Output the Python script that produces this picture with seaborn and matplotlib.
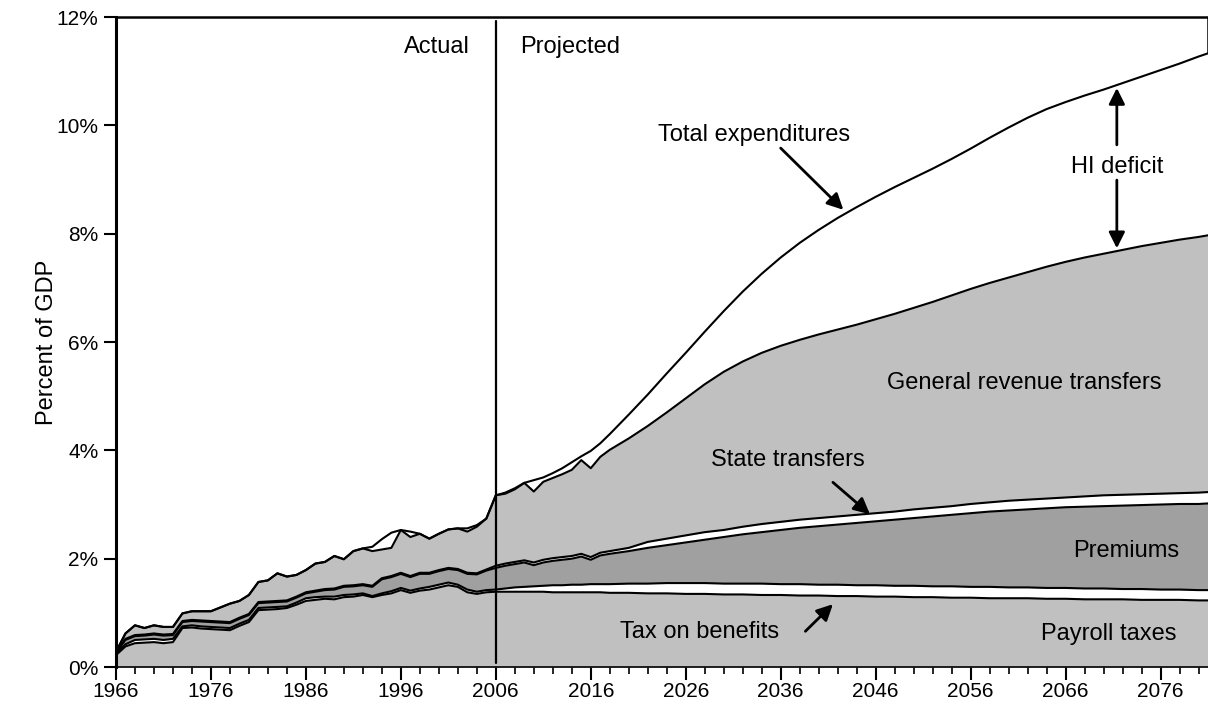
import numpy as np
import pandas as pd
import matplotlib
matplotlib.use("Agg")
import matplotlib.pyplot as plt
import seaborn as sns

# %% data: HI income layers (cumulative tops) and expenditures, percent of GDP

years = list(range(1966, 2019)) + list(range(2020, 2081, 2)) + [2081]

payroll_top = [0.22, 0.38, 0.44, 0.45, 0.46, 0.44, 0.46, 0.72, 0.73, 0.71,
               0.70, 0.69, 0.68, 0.76, 0.83, 1.05, 1.06, 1.07, 1.09, 1.15,
               1.22, 1.24, 1.26, 1.25, 1.29, 1.30, 1.33, 1.29, 1.33, 1.36,
               1.42, 1.37, 1.41, 1.43, 1.47, 1.51, 1.48, 1.38, 1.35, 1.38,
               1.39,
               1.39, 1.39, 1.39, 1.39, 1.39, 1.38, 1.38, 1.38, 1.38, 1.38,
               1.38, 1.37,
               1.37, 1.36, 1.36, 1.35, 1.35, 1.34, 1.34, 1.33, 1.33, 1.32,
               1.32, 1.31, 1.31, 1.30, 1.30, 1.29, 1.29, 1.28, 1.28, 1.27,
               1.27, 1.27, 1.26, 1.26, 1.25, 1.25, 1.25, 1.24, 1.24, 1.24,
               1.23, 1.23]

benefit_tax_top = [0.24, 0.42, 0.50, 0.51, 0.52, 0.50, 0.52, 0.75, 0.77, 0.75,
                   0.74, 0.73, 0.72, 0.80, 0.87, 1.09, 1.10, 1.11, 1.12, 1.19,
                   1.27, 1.29, 1.30, 1.30, 1.33, 1.34, 1.36, 1.31, 1.36, 1.40,
                   1.46, 1.41, 1.45, 1.48, 1.52, 1.56, 1.52, 1.43, 1.39, 1.42,
                   1.43,
                   1.45, 1.47, 1.48, 1.49, 1.50, 1.51, 1.51, 1.52, 1.52, 1.53,
                   1.53, 1.53,
                   1.54, 1.54, 1.55, 1.55, 1.55, 1.54, 1.54, 1.54, 1.53, 1.53,
                   1.52, 1.52, 1.51, 1.51, 1.50, 1.50, 1.49, 1.49, 1.48, 1.48,
                   1.47, 1.47, 1.46, 1.46, 1.45, 1.45, 1.44, 1.44, 1.43, 1.43,
                   1.42, 1.42]

premium_top = [0.26, 0.50, 0.57, 0.58, 0.60, 0.58, 0.59, 0.83, 0.85, 0.84,
               0.83, 0.82, 0.81, 0.89, 0.96, 1.18, 1.19, 1.20, 1.21, 1.28,
               1.36, 1.39, 1.42, 1.43, 1.48, 1.49, 1.51, 1.48, 1.62, 1.66,
               1.72, 1.66, 1.72, 1.72, 1.77, 1.81, 1.79, 1.72, 1.71, 1.78,
               1.83,
               1.87, 1.90, 1.93, 1.88, 1.93, 1.96, 1.98, 2.00, 2.04, 1.98,
               2.06, 2.09,
               2.14, 2.20, 2.25, 2.30, 2.35, 2.40, 2.45, 2.49, 2.53, 2.57,
               2.60, 2.63, 2.66, 2.69, 2.72, 2.75, 2.78, 2.81, 2.84, 2.87,
               2.89, 2.91, 2.93, 2.95, 2.96, 2.97, 2.98, 2.99, 3.00, 3.01,
               3.01, 3.02]

state_top = [0.27, 0.52, 0.59, 0.60, 0.62, 0.60, 0.61, 0.85, 0.87, 0.86,
             0.85, 0.84, 0.83, 0.91, 0.98, 1.20, 1.21, 1.22, 1.23, 1.30,
             1.38, 1.41, 1.44, 1.45, 1.50, 1.51, 1.53, 1.50, 1.64, 1.68,
             1.74, 1.68, 1.74, 1.74, 1.79, 1.83, 1.81, 1.74, 1.73, 1.80,
             1.87,
             1.91, 1.94, 1.97, 1.93, 1.98, 2.01, 2.03, 2.05, 2.09, 2.03,
             2.11, 2.14,
             2.20, 2.31, 2.37, 2.43, 2.49, 2.53, 2.59, 2.64, 2.68, 2.72,
             2.75, 2.78, 2.81, 2.84, 2.87, 2.91, 2.94, 2.97, 3.01, 3.04,
             3.07, 3.09, 3.11, 3.13, 3.15, 3.17, 3.18, 3.19, 3.20, 3.21,
             3.22, 3.23]

total_income = [0.28, 0.62, 0.77, 0.72, 0.77, 0.74, 0.74, 0.99, 1.03, 1.03,
                1.03, 1.10, 1.17, 1.22, 1.33, 1.57, 1.60, 1.73, 1.67, 1.70,
                1.79, 1.91, 1.94, 2.05, 1.99, 2.14, 2.19, 2.14, 2.17, 2.20,
                2.53, 2.40, 2.46, 2.37, 2.46, 2.54, 2.56, 2.50, 2.59, 2.74,
                3.17,
                3.20, 3.28, 3.40, 3.24, 3.42, 3.49, 3.56, 3.64, 3.82, 3.67,
                3.88, 4.01,
                4.22, 4.45, 4.70, 4.96, 5.22, 5.45, 5.64, 5.80, 5.93, 6.04,
                6.14, 6.23, 6.32, 6.42, 6.52, 6.63, 6.74, 6.86, 6.98, 7.09,
                7.19, 7.29, 7.39, 7.48, 7.56, 7.63, 7.70, 7.77, 7.83, 7.89,
                7.94, 7.97]

expenditures = [0.28, 0.62, 0.77, 0.72, 0.77, 0.74, 0.74, 0.99, 1.03, 1.03,
                1.03, 1.10, 1.17, 1.22, 1.33, 1.57, 1.60, 1.73, 1.67, 1.70,
                1.79, 1.91, 1.94, 2.05, 1.99, 2.14, 2.19, 2.22, 2.36, 2.48,
                2.53, 2.50, 2.46, 2.37, 2.46, 2.54, 2.56, 2.56, 2.62, 2.74,
                3.17,
                3.22, 3.30, 3.40, 3.45, 3.50, 3.58, 3.67, 3.78, 3.89, 3.99,
                4.13, 4.30,
                4.66, 5.03, 5.42, 5.80, 6.19, 6.57, 6.93, 7.26, 7.56, 7.83,
                8.07, 8.29, 8.49, 8.68, 8.86, 9.03, 9.20, 9.38, 9.57, 9.77,
                9.96, 10.14, 10.30, 10.43, 10.55, 10.66, 10.78, 10.90, 11.02,
                11.14, 11.27, 11.33]

df = pd.DataFrame({"year": years, "payroll": payroll_top,
                   "benefit_tax": benefit_tax_top, "premiums": premium_top,
                   "state": state_top, "income": total_income,
                   "expenditures": expenditures})

# %% figure

sns.set_theme(style="ticks")
plt.rcParams["font.family"] = ["Liberation Sans", "DejaVu Sans"]
plt.rcParams["text.color"] = "black"
plt.rcParams["axes.labelcolor"] = "black"

light = "#c0c0c0"
dark = "#a0a0a0"
fs = 17

fig = plt.figure(figsize=(12.08, 7.06), dpi=100)
ax = fig.add_axes([0.096, 0.0552, 0.904, 0.9207])

ax.fill_between(df.year, 0, df.payroll, color=light, lw=0)
ax.fill_between(df.year, df.benefit_tax, df.premiums, color=dark, lw=0)
ax.fill_between(df.year, df.state, df.income, color=light, lw=0)

for col in ["payroll", "benefit_tax", "premiums", "state", "income",
            "expenditures"]:
    sns.lineplot(data=df, x="year", y=col, ax=ax, color="black", lw=1.5,
                 estimator=None)

ax.set_xlim(1966, 2081)
ax.set_ylim(0, 12)
ax.set_xticks(range(1966, 2077, 10))
ax.set_xticks(range(1966, 2082, 2), minor=True)
ax.set_yticks(range(0, 13, 2))
ax.set_yticklabels([f"{v}%" for v in range(0, 13, 2)])
ax.set_xlabel("")
ax.set_ylabel("Percent of GDP", fontsize=fs)
ax.yaxis.set_label_coords(-0.053, 0.5)
ax.tick_params(axis="both", which="major", labelsize=15, color="black",
               labelcolor="black", width=1.5, length=9, direction="out")
ax.tick_params(axis="x", which="minor", length=5, width=1.2, color="black")
ax.tick_params(axis="x", which="major", pad=2)

for side in ["left", "top", "bottom"]:
    ax.spines[side].set_color("black")
ax.spines["left"].set_linewidth(2.2)
ax.spines["top"].set_linewidth(1.8)
ax.spines["bottom"].set_linewidth(1.2)
ax.spines["right"].set_visible(False)
ax.vlines(df.year.iloc[-1], df.expenditures.iloc[-1], 12, color="black",
          lw=1.8)

# actual / projected divider
ax.axvline(2006, ymin=0.006, ymax=0.994, color="black", lw=1.6)
ax.text(2003.3, 11.45, "Actual", ha="right", va="center", fontsize=fs)
ax.text(2008.6, 11.45, "Projected", ha="left", va="center", fontsize=fs)

arrow = dict(arrowstyle="-|>", mutation_scale=24, lw=2, color="black",
             shrinkA=0, shrinkB=0)

ax.text(2033.2, 9.82, "Total expenditures", ha="center", va="center",
        fontsize=fs)
ax.annotate("", xy=(2042.6, 8.44), xytext=(2036.0, 9.58), arrowprops=arrow)

ax.text(2071.4, 9.23, "HI deficit", ha="center", va="center", fontsize=fs)
ax.annotate("", xy=(2071.4, 10.69), xytext=(2071.4, 9.64), arrowprops=arrow)
ax.annotate("", xy=(2071.4, 7.73), xytext=(2071.4, 8.99), arrowprops=arrow)

ax.text(2061.7, 5.24, "General revenue transfers", ha="center",
        va="center", fontsize=fs)

ax.text(2036.8, 3.82, "State transfers", ha="center", va="center",
        fontsize=fs)
ax.annotate("", xy=(2045.4, 2.82), xytext=(2041.5, 3.41), arrowprops=arrow)

ax.text(2072.4, 2.14, "Premiums", ha="center", va="center", fontsize=fs)
ax.text(2070.5, 0.61, "Payroll taxes", ha="center", va="center",
        fontsize=fs)

ax.text(2027.5, 0.64, "Tax on benefits", ha="center", va="center",
        fontsize=fs)
ax.annotate("", xy=(2041.5, 1.16), xytext=(2038.6, 0.66), arrowprops=arrow)

fig.savefig("out.png", dpi=100)
